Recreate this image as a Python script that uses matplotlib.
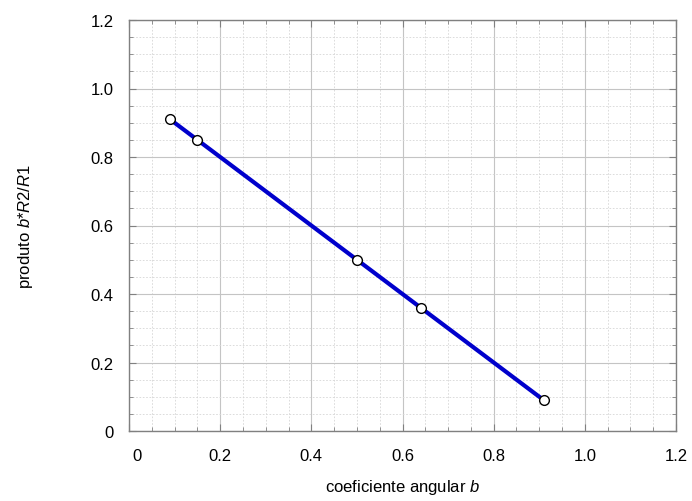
import matplotlib
matplotlib.use('Agg')
import matplotlib.pyplot as plt
from matplotlib.ticker import MultipleLocator, FuncFormatter

# data
b_vals = [0.09, 0.15, 0.50, 0.64, 0.91]
prod_vals = [0.91, 0.85, 0.50, 0.36, 0.09]

plt.rcParams['font.family'] = ['Liberation Sans', 'DejaVu Sans']
plt.rcParams['mathtext.fontset'] = 'custom'
plt.rcParams['mathtext.rm'] = 'Liberation Sans'
plt.rcParams['mathtext.it'] = 'Liberation Sans:italic'

fig = plt.figure(figsize=(6.92, 5.02), dpi=100)
ax = fig.add_axes([129 / 692, 1 - 432 / 502, 547 / 692, 411 / 502])

ax.plot(b_vals, prod_vals, color='#0000cc', linewidth=3, zorder=3)
ax.plot(b_vals, prod_vals, 'o', markersize=7, markerfacecolor='white',
        markeredgecolor='black', markeredgewidth=1, zorder=4)

ax.set_xlim(0, 1.2)
ax.set_ylim(0, 1.2)
ax.xaxis.set_major_locator(MultipleLocator(0.2))
ax.yaxis.set_major_locator(MultipleLocator(0.2))
ax.xaxis.set_minor_locator(MultipleLocator(0.05))
ax.yaxis.set_minor_locator(MultipleLocator(0.05))


def fmt_y(v, pos):
    return '0' if abs(v) < 1e-9 else f'{v:.1f}'


def fmt_x(v, pos):
    # the x "0" is drawn separately, a little right of its tick
    return '' if abs(v) < 1e-9 else f'{v:.1f}'


ax.xaxis.set_major_formatter(FuncFormatter(fmt_x))
ax.yaxis.set_major_formatter(FuncFormatter(fmt_y))

ax.grid(which='major', color='#c4c4c4', linewidth=0.8, linestyle='-')
ax.grid(which='minor', color='#d6d6d6', linewidth=0.6, linestyle=(0, (2, 2)))
ax.set_axisbelow(True)

ax.tick_params(which='both', direction='in', top=True, right=True,
               color='#808080')
ax.tick_params(which='major', length=5, width=0.8, labelsize=12, pad=12)
ax.tick_params(which='minor', length=3, width=0.6)
ax.tick_params(axis='y', which='major', pad=11)
for s in ax.spines.values():
    s.set_color('#808080')
    s.set_linewidth(1.0)

ax.annotate('0', xy=(0, 0), xycoords=('data', 'axes fraction'),
            xytext=(6, -12), textcoords='offset points',
            ha='center', va='top', fontsize=12)

ax.set_xlabel('coeficiente angular $\\it{b}$', fontsize=12, labelpad=10)
ax.set_ylabel('produto $\\it{b{*}R2/R1}$', fontsize=12, labelpad=40)

fig.savefig('out.png', dpi=100)
